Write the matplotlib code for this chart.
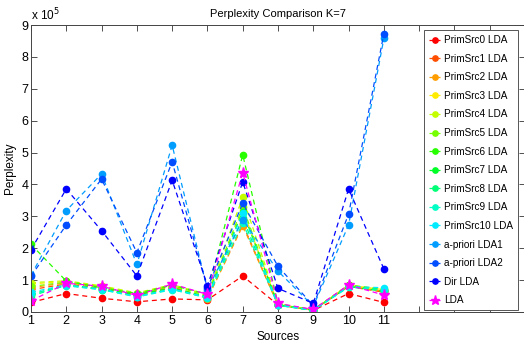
import colorsys
import matplotlib
matplotlib.use("Agg")
import matplotlib.pyplot as plt

plt.rcParams['font.family'] = ['Liberation Sans', 'DejaVu Sans']

sources = list(range(1, 12))

# perplexity values, in units of 1e5
prim_src = [
    [0.30, 0.58, 0.43, 0.32, 0.41, 0.38, 1.13, 0.22, 0.05, 0.58, 0.30],
    [0.70, 0.88, 0.75, 0.52, 0.78, 0.45, 2.75, 0.22, 0.06, 0.80, 0.62],
    [0.76, 0.92, 0.78, 0.55, 0.80, 0.42, 2.70, 0.22, 0.06, 0.82, 0.65],
    [0.88, 0.96, 0.80, 0.58, 0.85, 0.50, 3.20, 0.24, 0.07, 0.84, 0.70],
    [0.92, 0.98, 0.82, 0.60, 0.86, 0.55, 3.60, 0.25, 0.07, 0.85, 0.72],
    [0.80, 0.94, 0.78, 0.57, 0.82, 0.52, 3.30, 0.24, 0.06, 0.83, 0.68],
    [2.12, 0.97, 0.76, 0.58, 0.84, 0.56, 4.93, 0.26, 0.07, 0.84, 0.70],
    [0.55, 0.86, 0.72, 0.55, 0.75, 0.48, 3.15, 0.22, 0.06, 0.80, 0.65],
    [0.50, 0.84, 0.70, 0.50, 0.72, 0.45, 2.95, 0.21, 0.05, 0.80, 0.66],
    [0.55, 0.82, 0.70, 0.47, 0.70, 0.44, 2.80, 0.21, 0.05, 0.78, 0.70],
    [0.62, 0.85, 0.72, 0.48, 0.72, 0.46, 3.10, 0.22, 0.06, 0.80, 0.76],
]
apriori_lda1 = [1.15, 3.18, 4.33, 1.49, 5.23, 0.70, 2.90, 1.28, 0.18, 2.73, 8.58]
apriori_lda2 = [1.12, 2.73, 4.17, 1.86, 4.71, 0.75, 3.41, 1.43, 0.20, 3.07, 8.73]
dir_lda = [1.95, 3.86, 2.55, 1.13, 4.13, 0.83, 4.08, 0.74, 0.27, 3.86, 1.35]
lda = [0.35, 0.90, 0.81, 0.52, 0.88, 0.55, 4.37, 0.27, 0.08, 0.85, 0.53]

labels = [f"PrimSrc{i} LDA" for i in range(len(prim_src))] + \
    ["a-priori LDA1", "a-priori LDA2", "Dir LDA"]
series = prim_src + [apriori_lda1, apriori_lda2, dir_lda]

fig = plt.figure(figsize=(5.24, 3.47), dpi=100)
ax = fig.add_axes([31 / 524, 1 - 312 / 347, 1 - 31 / 524 + 0.002, (312 - 25) / 347])

n = len(series)
for i, (vals, lab) in enumerate(zip(series, labels)):
    hue = i * (2 / 3) / (n - 1)
    col = colorsys.hsv_to_rgb(hue, 1, 1)
    ax.plot(sources, vals, linestyle=(0, (4, 3)), linewidth=0.9, color=col,
            marker='o', markersize=4.5, markeredgecolor=col, label=lab)
ax.plot(sources, lda, linestyle=(0, (4, 3)), linewidth=0.9, color=(1, 0, 1),
        marker='*', markersize=8, label="LDA")

ax.set_xlim(1, 15)
ax.set_ylim(0, 9)
ax.set_xticks(range(1, 16))
ax.set_xticklabels([str(s) if s <= 11 else "" for s in range(1, 16)])
ax.set_yticks(range(0, 10))
ax.tick_params(direction='in', length=4, width=0.6, labelsize=9,
               top=True, right=True, pad=2, colors='#333333', labelcolor='black')
for sp in ax.spines.values():
    sp.set_linewidth(0.7)
    sp.set_color('#444444')

ax.text(0.0, 1.005, r"x 10$^{5}$", transform=ax.transAxes, fontsize=8.5,
        ha='left', va='bottom')
ax.set_title("Perplexity Comparison K=7", fontsize=8, pad=6)
ax.set_xlabel("Sources", fontsize=8.5, labelpad=3)
ax.set_ylabel("Perplexity", fontsize=8.5, labelpad=4)

leg = ax.legend(loc='upper right', bbox_to_anchor=((517 - 31) / 493, 1 - 5 / 287),
                bbox_transform=ax.transAxes, fontsize=7.2, handlelength=1.1,
                labelspacing=0.86, borderpad=0.5, handletextpad=0.4,
                borderaxespad=0, markerscale=0.85,
                fancybox=False, framealpha=1, edgecolor='#555555')
leg.get_frame().set_linewidth(0.7)

fig.savefig("out.png", dpi=100)
